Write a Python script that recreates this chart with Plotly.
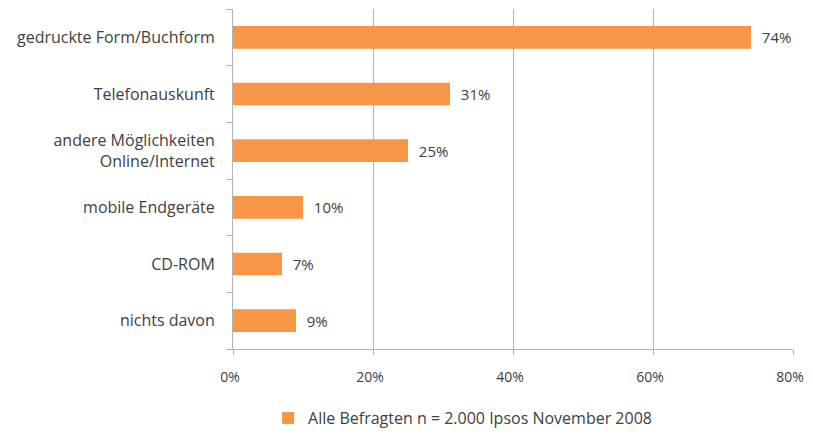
import plotly.graph_objects as go

categories = ["gedruckte Form/Buchform", "Telefonauskunft", "andere Möglichkeiten<br>Online/Internet",
              "mobile Endgeräte", "CD-ROM", "nichts davon"]
values = [74, 31, 25, 10, 7, 9]
series_name = "Alle Befragten n = 2.000 Ipsos November 2008"
tick_vals = [0, 20, 40, 60, 80]
tick_text = ["0%", "20%", "40%", "60%", "80%"]

ORANGE = "#F79646"
TEXT = "#404040"
GRID = "#B3B3B3"
FONT = "Open Sans"

fig = go.Figure(go.Bar(
    x=values, y=categories, orientation="h", name=series_name,
    marker=dict(color=ORANGE, line=dict(width=0)),
    text=[f"\u00a0\u00a0{v}%" for v in values], textposition="outside",
    textfont=dict(color=TEXT, size=15, family=FONT),
    cliponaxis=False, showlegend=True,
))

# page body has an 8px margin all round, so the figure is shrunk to fit
# the window without scrollbars and the margins are offset by 8px
fig.update_layout(
    width=797, height=421,
    margin=dict(l=225, r=12, t=1, b=80, autoexpand=False),
    paper_bgcolor="white", plot_bgcolor="white",
    bargap=0.6,
    font=dict(family=FONT, color=TEXT, size=15),
    legend=dict(orientation="h", x=0.41, xanchor="center", y=-0.203, yanchor="middle",
                font=dict(size=16, color=TEXT, family=FONT), itemwidth=30),
    xaxis=dict(range=[0, 80], tickvals=tick_vals, ticktext=tick_text,
               showgrid=True, gridcolor=GRID, gridwidth=1,
               showline=True, linecolor=GRID, linewidth=1,
               ticks="outside", ticklen=5, tickcolor=GRID,
               zeroline=False, ticklabelstandoff=10, ticklabelshift=-3,
               ticklabeloverflow="allow", automargin=False,
               tickfont=dict(size=14, color=TEXT)),
    yaxis=dict(categoryorder="array", categoryarray=categories[::-1],
               showline=True, linecolor=GRID, linewidth=1,
               ticks="outside", ticklen=6, tickcolor=GRID, tickson="boundaries",
               showgrid=False, ticklabelstandoff=14, automargin=False,
               tickfont=dict(size=16, color=TEXT)),
)

fig.write_html("out.html")
